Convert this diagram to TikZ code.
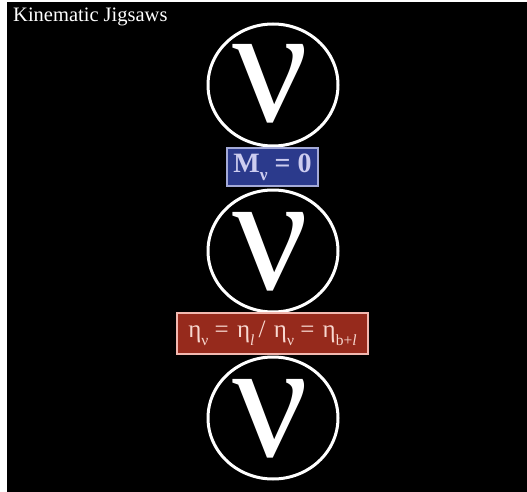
\documentclass[tikz,border=0pt]{standalone}
\usepackage{fontspec}
\setmainfont{Liberation Serif}
\usetikzlibrary{shapes.geometric}

\definecolor{jigblue}{HTML}{2B3A8C}
\definecolor{jigblueline}{HTML}{A4AAD8}
\definecolor{jigbluetext}{HTML}{CDCDF0}
\definecolor{jigred}{HTML}{962A1C}
\definecolor{jigredline}{HTML}{F2B8B0}
\definecolor{jigredtext}{HTML}{F8D8D0}

% low subscript as in the slide
\newcommand{\lowidx}[1]{\raisebox{-0.3em}{\fontsize{0.62em}{0.62em}\selectfont #1}}

\begin{document}
\begin{tikzpicture}[x=1pt, y=-1pt,
    ring/.style={ellipse, draw=white, line width=3pt, minimum width=130, minimum height=122, inner sep=0pt},
    nuglyph/.style={text=white, inner sep=0pt, font=\fontsize{168}{168}\selectfont},
    rule/.style={line width=1.2pt, inner sep=0pt}]
    % Background
    \useasboundingbox (0,0) rectangle (527,492);
    \fill[white] (0,0) rectangle (527,492);
    \fill[black] (7,2) rectangle (527,492);

    % Title
    \node[anchor=base west, text=white, inner sep=0pt, font=\fontsize{20.5}{24}\selectfont] (title) at (13,22) {Kinematic Jigsaws};

    % Neutrinos
    \node[ring] (c1) at (273,85) {};
    \node[ring] (c2) at (273,251) {};
    \node[ring] (c3) at (273,418) {};
    \node[nuglyph] (n1) at (270,84) {ν};
    \node[nuglyph] (n2) at (270,252) {ν};
    \node[nuglyph] (n3) at (270,419) {ν};

    % Rules
    \node[rule, draw=jigblueline, fill=jigblue, text=jigbluetext, minimum width=91, minimum height=38,
          font=\bfseries\fontsize{28}{30}\selectfont] (mass) at (272.5,167) {M\lowidx{ν} = 0};
    \node[rule, draw=jigredline, fill=jigred, text=jigredtext, minimum width=191, minimum height=41,
          font=\fontsize{25}{28}\selectfont] (rapid) at (272.5,333.5)
          {η\lowidx{ν} =\,\,η\lowidx{\textit{l}}\,/\,\,η\lowidx{ν} =\,\,η\lowidx{b+\textit{l}}};
\end{tikzpicture}
\end{document}
